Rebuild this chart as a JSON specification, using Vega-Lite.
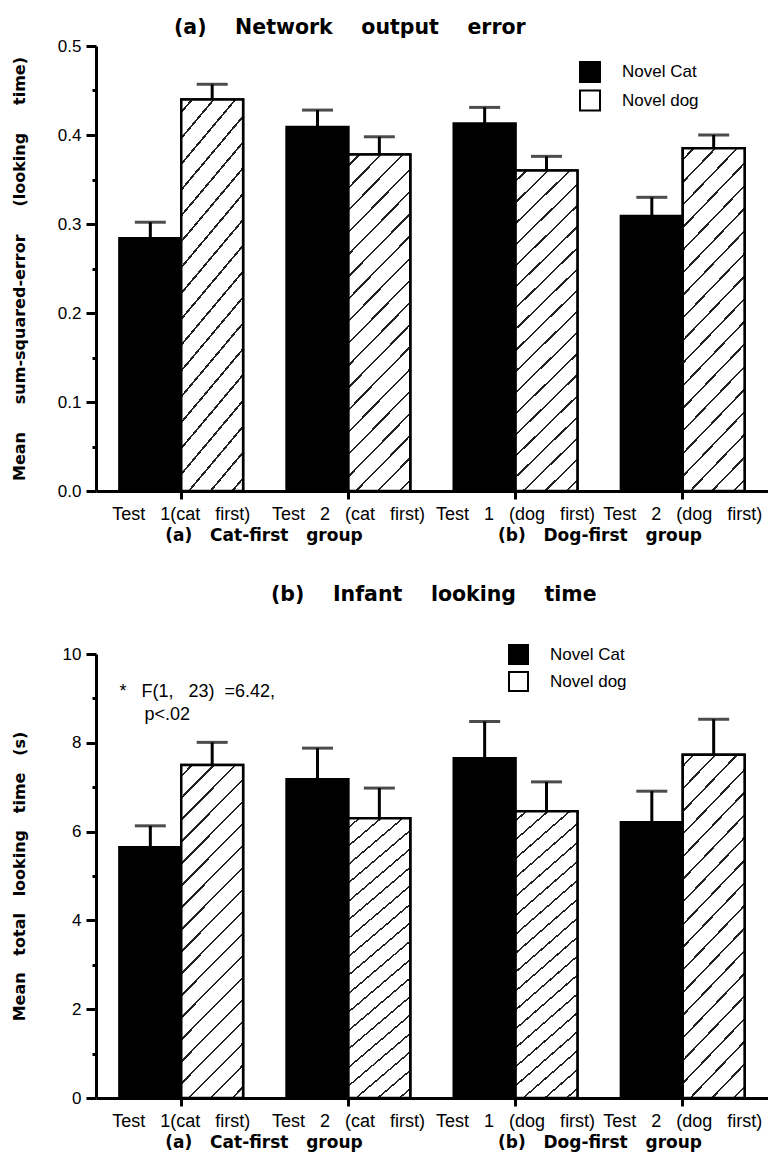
{
  "$schema": "https://vega.github.io/schema/vega-lite/v6.json",
  "background": "white",
  "padding": {"left": 11, "top": 17, "right": 0, "bottom": 4},
  "resolve": {"scale": {"fill": "independent"}, "legend": {"fill": "independent"}},
  "datasets": {
    "net": [
      {"test": "Test 1(cat first)", "stim": "Novel Cat", "mean": 0.284, "upper": 0.302},
      {"test": "Test 1(cat first)", "stim": "Novel dog", "mean": 0.440, "upper": 0.457},
      {"test": "Test 2 (cat first)", "stim": "Novel Cat", "mean": 0.409, "upper": 0.428},
      {"test": "Test 2 (cat first)", "stim": "Novel dog", "mean": 0.378, "upper": 0.398},
      {"test": "Test 1 (dog first)", "stim": "Novel Cat", "mean": 0.413, "upper": 0.431},
      {"test": "Test 1 (dog first)", "stim": "Novel dog", "mean": 0.360, "upper": 0.376},
      {"test": "Test 2 (dog first)", "stim": "Novel Cat", "mean": 0.309, "upper": 0.330},
      {"test": "Test 2 (dog first)", "stim": "Novel dog", "mean": 0.385, "upper": 0.400}
    ],
    "inf": [
      {"test": "Test 1(cat first)", "stim": "Novel Cat", "mean": 5.65, "upper": 6.13},
      {"test": "Test 1(cat first)", "stim": "Novel dog", "mean": 7.50, "upper": 8.01},
      {"test": "Test 2 (cat first)", "stim": "Novel Cat", "mean": 7.18, "upper": 7.88},
      {"test": "Test 2 (cat first)", "stim": "Novel dog", "mean": 6.30, "upper": 6.98},
      {"test": "Test 1 (dog first)", "stim": "Novel Cat", "mean": 7.65, "upper": 8.48},
      {"test": "Test 1 (dog first)", "stim": "Novel dog", "mean": 6.46, "upper": 7.12},
      {"test": "Test 2 (dog first)", "stim": "Novel Cat", "mean": 6.21, "upper": 6.91},
      {"test": "Test 2 (dog first)", "stim": "Novel dog", "mean": 7.73, "upper": 8.53}
    ],
    "groups": [
      {"grp": "(a) Cat-first group"},
      {"grp": "(b) Dog-first group"}
    ],
    "note": [
      {"test": "Test 1(cat first)", "y": 9.14, "text": "*\u00a0\u00a0\u00a0F(1,\u00a0\u00a0\u00a023)\u00a0\u00a0=6.42,"},
      {"test": "Test 1(cat first)", "y": 8.62, "text": "\u200b\u00a0\u00a0\u00a0\u00a0\u00a0p<.02"}
    ]
  },
  "config": {
    "view": {"stroke": null},
    "font": "Liberation Sans",
    "axis": {
      "domainColor": "black", "domainWidth": 3, "tickColor": "black", "tickWidth": 3,
      "labelColor": "black", "labelFont": "Liberation Sans", "labelFontSize": 17,
      "titleColor": "black", "titleFont": "DejaVu Sans", "titleFontWeight": "bold", "titleFontSize": 16,
      "grid": false
    },
    "title": {"font": "DejaVu Sans", "fontWeight": "bold", "fontSize": 20.5, "color": "black", "anchor": "start", "frame": "group"}
  },
  "spacing": 41,
  "vconcat": [
    {
      "width": 672,
      "height": 445,
      "title": {"text": "(a)\u00a0\u00a0\u00a0\u00a0Network\u00a0\u00a0\u00a0\u00a0output\u00a0\u00a0\u00a0\u00a0error", "dx": 78, "offset": -17, "baseline": "alphabetic"},
      "resolve": {"scale": {"x": "independent"}, "axis": {"x": "independent"}},
      "layer": [
        {
          "data": {"name": "net"},
          "encoding": {
            "x": {"field": "test", "type": "nominal",
              "sort": ["Test 1(cat first)", "Test 2 (cat first)", "Test 1 (dog first)", "Test 2 (dog first)"],
              "scale": {"paddingInner": 0.26, "paddingOuter": 0.14},
              "axis": {"orient": "bottom", "title": null, "labelAngle": 0, "labelLimit": 0, "labelFontSize": 18, "tickSize": 8, "labelPadding": 6, "labelOverlap": false,
                "labelExpr": "replace(datum.label, regexp(' ', 'g'), '\u00a0\u00a0\u00a0')"}},
            "xOffset": {"field": "stim", "type": "nominal", "scale": {"paddingInner": 0, "paddingOuter": 0}}
          },
          "layer": [
            {
              "mark": {"type": "bar", "stroke": "black", "strokeWidth": 2.5},
              "encoding": {
                "y": {"field": "mean", "type": "quantitative", "scale": {"domain": [0, 0.5]},
                  "axis": {"title": "Mean\u00a0\u00a0\u00a0\u00a0\u00a0sum-squared-error\u00a0\u00a0\u00a0\u00a0\u00a0(looking\u00a0\u00a0\u00a0\u00a0\u00a0time)",
                    "values": [0, 0.05, 0.1, 0.15, 0.2, 0.25, 0.3, 0.35, 0.4, 0.45, 0.5],
                    "labelExpr": "round(datum.value*20) % 2 == 0 ? format(datum.value, '.1f') : ''",
                    "tickSize": {"condition": {"test": "round(datum.value*20) % 2 == 1", "value": 4}, "value": 10},
                    "labelPadding": 5, "titlePadding": 30}},
                "fill": {"field": "stim", "type": "nominal", "scale": {"range": ["black", "white"]},
                  "legend": {"orient": "none", "legendX": 483, "legendY": 15, "direction": "vertical", "title": null, "symbolType": "square", "symbolSize": 400,
                    "symbolStrokeColor": "black", "symbolStrokeWidth": 2, "labelFont": "Liberation Sans", "labelFontSize": 17, "labelColor": "black",
                    "labelOffset": 21, "rowPadding": 0.5, "padding": 0}}
              }
            },
            {
              "transform": [{"filter": "datum.stim == 'Novel dog'"}],
              "mark": {"type": "bar", "stroke": "black", "strokeWidth": 2.5,
                "fill": {"gradient": "linear", "x1": 0, "y1": 0, "x2": 0.2156, "y2": 1.1474, "stops": [
                  {"offset": 0, "color": "white"},
                  {"offset": 0.0248, "color": "white"}, {"offset": 0.0248, "color": "#222"}, {"offset": 0.0308, "color": "#222"}, {"offset": 0.0308, "color": "white"},
                  {"offset": 0.0803, "color": "white"}, {"offset": 0.0803, "color": "#222"}, {"offset": 0.0863, "color": "#222"}, {"offset": 0.0863, "color": "white"},
                  {"offset": 0.1359, "color": "white"}, {"offset": 0.1359, "color": "#222"}, {"offset": 0.1419, "color": "#222"}, {"offset": 0.1419, "color": "white"},
                  {"offset": 0.1914, "color": "white"}, {"offset": 0.1914, "color": "#222"}, {"offset": 0.1974, "color": "#222"}, {"offset": 0.1974, "color": "white"},
                  {"offset": 0.247, "color": "white"}, {"offset": 0.247, "color": "#222"}, {"offset": 0.253, "color": "#222"}, {"offset": 0.253, "color": "white"},
                  {"offset": 0.3026, "color": "white"}, {"offset": 0.3026, "color": "#222"}, {"offset": 0.3086, "color": "#222"}, {"offset": 0.3086, "color": "white"},
                  {"offset": 0.3581, "color": "white"}, {"offset": 0.3581, "color": "#222"}, {"offset": 0.3641, "color": "#222"}, {"offset": 0.3641, "color": "white"},
                  {"offset": 0.4137, "color": "white"}, {"offset": 0.4137, "color": "#222"}, {"offset": 0.4197, "color": "#222"}, {"offset": 0.4197, "color": "white"},
                  {"offset": 0.4692, "color": "white"}, {"offset": 0.4692, "color": "#222"}, {"offset": 0.4752, "color": "#222"}, {"offset": 0.4752, "color": "white"},
                  {"offset": 0.5248, "color": "white"}, {"offset": 0.5248, "color": "#222"}, {"offset": 0.5308, "color": "#222"}, {"offset": 0.5308, "color": "white"},
                  {"offset": 0.5803, "color": "white"}, {"offset": 0.5803, "color": "#222"}, {"offset": 0.5863, "color": "#222"}, {"offset": 0.5863, "color": "white"},
                  {"offset": 0.6359, "color": "white"}, {"offset": 0.6359, "color": "#222"}, {"offset": 0.6419, "color": "#222"}, {"offset": 0.6419, "color": "white"},
                  {"offset": 0.6914, "color": "white"}, {"offset": 0.6914, "color": "#222"}, {"offset": 0.6974, "color": "#222"}, {"offset": 0.6974, "color": "white"},
                  {"offset": 0.747, "color": "white"}, {"offset": 0.747, "color": "#222"}, {"offset": 0.753, "color": "#222"}, {"offset": 0.753, "color": "white"},
                  {"offset": 0.8026, "color": "white"}, {"offset": 0.8026, "color": "#222"}, {"offset": 0.8086, "color": "#222"}, {"offset": 0.8086, "color": "white"},
                  {"offset": 0.8581, "color": "white"}, {"offset": 0.8581, "color": "#222"}, {"offset": 0.8641, "color": "#222"}, {"offset": 0.8641, "color": "white"},
                  {"offset": 0.9137, "color": "white"}, {"offset": 0.9137, "color": "#222"}, {"offset": 0.9197, "color": "#222"}, {"offset": 0.9197, "color": "white"},
                  {"offset": 0.9692, "color": "white"}, {"offset": 0.9692, "color": "#222"}, {"offset": 0.9752, "color": "#222"}, {"offset": 0.9752, "color": "white"},
                  {"offset": 1, "color": "white"}
                ]}},
              "encoding": {"y": {"field": "mean", "type": "quantitative"}}
            },
            {
              "mark": {"type": "rule", "color": "black", "strokeWidth": 3},
              "encoding": {"y": {"field": "mean", "type": "quantitative"}, "y2": {"field": "upper"}}
            },
            {
              "mark": {"type": "tick", "color": "black", "thickness": 3, "size": 31},
              "encoding": {"y": {"field": "upper", "type": "quantitative"}}
            }
          ]
        },
        {
          "data": {"name": "groups"},
          "mark": {"type": "text", "text": ""},
          "encoding": {
            "x": {"field": "grp", "type": "nominal", "scale": {"type": "band", "paddingInner": 0, "paddingOuter": 0},
              "axis": {"orient": "bottom", "title": null, "domain": false, "ticks": false, "tickSize": 0, "labelPadding": 36,
                "labelFont": "DejaVu Sans", "labelFontWeight": "bold", "labelFontSize": 17, "labelAngle": 0, "labelLimit": 0,
                "labelExpr": "replace(datum.label, regexp(' ', 'g'), '\u00a0\u00a0\u00a0')"}}
          }
        }
      ]
    },
    {
      "width": 672,
      "height": 444,
      "title": {"text": "(b)\u00a0\u00a0\u00a0\u00a0Infant\u00a0\u00a0\u00a0\u00a0looking\u00a0\u00a0\u00a0\u00a0time", "dx": 175, "offset": 23, "baseline": "alphabetic"},
      "resolve": {"scale": {"x": "independent"}, "axis": {"x": "independent"}},
      "layer": [
        {
          "encoding": {
            "x": {"field": "test", "type": "nominal",
              "sort": ["Test 1(cat first)", "Test 2 (cat first)", "Test 1 (dog first)", "Test 2 (dog first)"],
              "scale": {"paddingInner": 0.26, "paddingOuter": 0.14},
              "axis": {"orient": "bottom", "title": null, "labelAngle": 0, "labelLimit": 0, "labelFontSize": 18, "tickSize": 8, "labelPadding": 6, "labelOverlap": false,
                "labelExpr": "replace(datum.label, regexp(' ', 'g'), '\u00a0\u00a0\u00a0')"}}
          },
          "layer": [
            {
              "data": {"name": "inf"},
              "mark": {"type": "bar", "stroke": "black", "strokeWidth": 2.5},
              "encoding": {
                "xOffset": {"field": "stim", "type": "nominal", "scale": {"paddingInner": 0, "paddingOuter": 0}},
                "y": {"field": "mean", "type": "quantitative", "scale": {"domain": [0, 10]},
                  "axis": {"title": "Mean\u00a0\u00a0\u00a0total\u00a0\u00a0\u00a0looking\u00a0\u00a0\u00a0time\u00a0\u00a0\u00a0(s)",
                    "values": [0, 1, 2, 3, 4, 5, 6, 7, 8, 9, 10],
                    "labelExpr": "datum.value % 2 == 0 ? datum.label : ''",
                    "tickSize": {"condition": {"test": "datum.value % 2 == 1", "value": 4}, "value": 10},
                    "labelPadding": 5, "titlePadding": 35}},
                "fill": {"field": "stim", "type": "nominal", "scale": {"range": ["black", "white"]},
                  "legend": {"orient": "none", "legendX": 412, "legendY": -10, "direction": "vertical", "title": null, "symbolType": "square", "symbolSize": 361,
                    "symbolStrokeColor": "black", "symbolStrokeWidth": 2, "labelFont": "Liberation Sans", "labelFontSize": 17, "labelColor": "black",
                    "labelOffset": 21, "rowPadding": 0, "padding": 0}}
              }
            },
            {
              "data": {"name": "inf"},
              "transform": [{"filter": "datum.stim == 'Novel dog'"}],
              "mark": {"type": "bar", "stroke": "black", "strokeWidth": 2.5,
                "fill": {"gradient": "linear", "x1": 0, "y1": 0, "x2": 0.2156, "y2": 1.1474, "stops": [
                  {"offset": 0, "color": "white"},
                  {"offset": 0.0248, "color": "white"}, {"offset": 0.0248, "color": "#222"}, {"offset": 0.0308, "color": "#222"}, {"offset": 0.0308, "color": "white"},
                  {"offset": 0.0803, "color": "white"}, {"offset": 0.0803, "color": "#222"}, {"offset": 0.0863, "color": "#222"}, {"offset": 0.0863, "color": "white"},
                  {"offset": 0.1359, "color": "white"}, {"offset": 0.1359, "color": "#222"}, {"offset": 0.1419, "color": "#222"}, {"offset": 0.1419, "color": "white"},
                  {"offset": 0.1914, "color": "white"}, {"offset": 0.1914, "color": "#222"}, {"offset": 0.1974, "color": "#222"}, {"offset": 0.1974, "color": "white"},
                  {"offset": 0.247, "color": "white"}, {"offset": 0.247, "color": "#222"}, {"offset": 0.253, "color": "#222"}, {"offset": 0.253, "color": "white"},
                  {"offset": 0.3026, "color": "white"}, {"offset": 0.3026, "color": "#222"}, {"offset": 0.3086, "color": "#222"}, {"offset": 0.3086, "color": "white"},
                  {"offset": 0.3581, "color": "white"}, {"offset": 0.3581, "color": "#222"}, {"offset": 0.3641, "color": "#222"}, {"offset": 0.3641, "color": "white"},
                  {"offset": 0.4137, "color": "white"}, {"offset": 0.4137, "color": "#222"}, {"offset": 0.4197, "color": "#222"}, {"offset": 0.4197, "color": "white"},
                  {"offset": 0.4692, "color": "white"}, {"offset": 0.4692, "color": "#222"}, {"offset": 0.4752, "color": "#222"}, {"offset": 0.4752, "color": "white"},
                  {"offset": 0.5248, "color": "white"}, {"offset": 0.5248, "color": "#222"}, {"offset": 0.5308, "color": "#222"}, {"offset": 0.5308, "color": "white"},
                  {"offset": 0.5803, "color": "white"}, {"offset": 0.5803, "color": "#222"}, {"offset": 0.5863, "color": "#222"}, {"offset": 0.5863, "color": "white"},
                  {"offset": 0.6359, "color": "white"}, {"offset": 0.6359, "color": "#222"}, {"offset": 0.6419, "color": "#222"}, {"offset": 0.6419, "color": "white"},
                  {"offset": 0.6914, "color": "white"}, {"offset": 0.6914, "color": "#222"}, {"offset": 0.6974, "color": "#222"}, {"offset": 0.6974, "color": "white"},
                  {"offset": 0.747, "color": "white"}, {"offset": 0.747, "color": "#222"}, {"offset": 0.753, "color": "#222"}, {"offset": 0.753, "color": "white"},
                  {"offset": 0.8026, "color": "white"}, {"offset": 0.8026, "color": "#222"}, {"offset": 0.8086, "color": "#222"}, {"offset": 0.8086, "color": "white"},
                  {"offset": 0.8581, "color": "white"}, {"offset": 0.8581, "color": "#222"}, {"offset": 0.8641, "color": "#222"}, {"offset": 0.8641, "color": "white"},
                  {"offset": 0.9137, "color": "white"}, {"offset": 0.9137, "color": "#222"}, {"offset": 0.9197, "color": "#222"}, {"offset": 0.9197, "color": "white"},
                  {"offset": 0.9692, "color": "white"}, {"offset": 0.9692, "color": "#222"}, {"offset": 0.9752, "color": "#222"}, {"offset": 0.9752, "color": "white"},
                  {"offset": 1, "color": "white"}
                ]}},
              "encoding": {
                "xOffset": {"field": "stim", "type": "nominal"},
                "y": {"field": "mean", "type": "quantitative"}
              }
            },
            {
              "data": {"name": "inf"},
              "mark": {"type": "rule", "color": "black", "strokeWidth": 3},
              "encoding": {"xOffset": {"field": "stim", "type": "nominal"}, "y": {"field": "mean", "type": "quantitative"}, "y2": {"field": "upper"}}
            },
            {
              "data": {"name": "inf"},
              "mark": {"type": "tick", "color": "black", "thickness": 3, "size": 31},
              "encoding": {"xOffset": {"field": "stim", "type": "nominal"}, "y": {"field": "upper", "type": "quantitative"}}
            },
            {
              "data": {"name": "note"},
              "mark": {"type": "text", "align": "left", "baseline": "middle", "font": "Liberation Sans", "fontSize": 18, "color": "black"},
              "encoding": {
                "x": {"field": "test", "type": "nominal", "bandPosition": 0},
                "y": {"field": "y", "type": "quantitative"},
                "text": {"field": "text"}
              }
            }
          ]
        },
        {
          "data": {"name": "groups"},
          "mark": {"type": "text", "text": ""},
          "encoding": {
            "x": {"field": "grp", "type": "nominal", "scale": {"type": "band", "paddingInner": 0, "paddingOuter": 0},
              "axis": {"orient": "bottom", "title": null, "domain": false, "ticks": false, "tickSize": 0, "labelPadding": 36,
                "labelFont": "DejaVu Sans", "labelFontWeight": "bold", "labelFontSize": 17, "labelAngle": 0, "labelLimit": 0,
                "labelExpr": "replace(datum.label, regexp(' ', 'g'), '\u00a0\u00a0\u00a0')"}}
          }
        }
      ]
    }
  ]
}
